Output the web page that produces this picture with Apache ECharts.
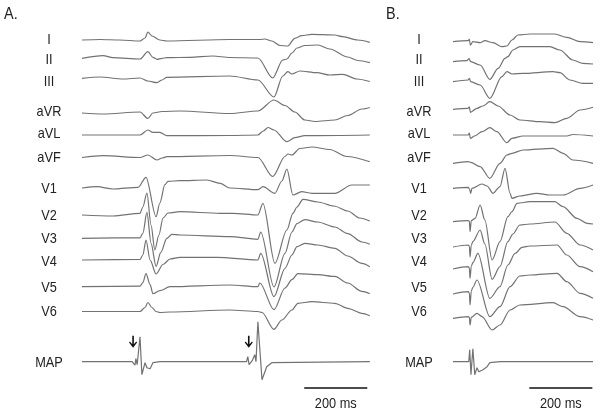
<!DOCTYPE html>
<html>
<head>
<meta charset="utf-8">
<script src="https://cdn.jsdelivr.net/npm/echarts@6/dist/echarts.min.js"></script>
<style>
  html, body { margin: 0; padding: 0; background: #fff; }
  #chart { width: 600px; height: 414px; }
</style>
</head>
<body>
<div id="chart"></div>
<script>
// lead names, top to bottom
var leads = ['I', 'II', 'III', 'aVR', 'aVL', 'aVF', 'V1', 'V2', 'V3', 'V4', 'V5', 'V6', 'MAP'];

// panel A traces: [time ms, amplitude mV]
var aI   = [[0,0],[57,0.05],[120,0],[184,-0.1],[200,0.2],[209,0.8],[222,0.4],[247,0],[269,-0.1],[469,0.05],[565,0.05],[580,0.1],[602,-0.1],[628,-0.55],[653,-0.6],[675,0.17],[697,0.43],[729,0.57],[802,0.5],[827,0.33],[875,0],[913,-0.23]];
var aII  = [[0,-0.03],[67,0.23],[98,0.03],[184,-0.1],[209,0.63],[225,0.07],[238,-0.13],[254,-0.03],[269,0.03],[342,0.07],[415,0.2],[469,0.05],[558,0],[605,-2.0],[637,-0.2],[650,-0.1],[666,0.5],[682,1.0],[707,1.25],[748,1.3],[786,0.9],[843,0.1],[875,-0.25],[913,-0.47]];
var aIII = [[0,0.07],[57,0.2],[130,0],[184,0.1],[209,-0.2],[238,-0.37],[254,-0.1],[269,0.17],[469,0.3],[558,-0.1],[609,-1.8],[637,0.3],[653,0.73],[666,0.5],[691,0.8],[745,0.63],[786,0.4],[827,0.47],[872,0],[913,-0.25]];
var aVR  = [[0,-0.05],[67,-0.15],[184,0.05],[209,-0.6],[225,-0.05],[254,0.1],[311,0.15],[469,-0.1],[558,0.15],[609,1.25],[644,0.7],[675,0.05],[707,-0.75],[739,-0.9],[802,-0.75],[843,-0.3],[888,0.35],[913,0.5]];
var aVL  = [[0,0],[184,0],[209,0.5],[225,0.27],[247,0.27],[269,-0.07],[469,-0.05],[558,0],[575,0.4],[590,0.75],[609,0.5],[650,-0.67],[675,-0.27],[707,-0.07],[913,0]];
var aVF  = [[0,-0.05],[67,0.13],[184,-0.05],[209,0.2],[238,-0.3],[254,-0.1],[269,0.03],[469,0.15],[558,-0.05],[605,-1.95],[644,0.05],[653,0.3],[666,0.2],[691,0.85],[730,1.0],[786,0.75],[840,0.05],[913,-0.47]];
var aV1  = [[0,0],[48,0.13],[98,-0.1],[178,0.07],[203,1.07],[235,-2.87],[247,-1.5],[263,0.33],[273,0.67],[311,0.73],[396,0.8],[438,0.47],[469,0],[558,-0.17],[574,0.13],[612,-0.53],[634,0.7],[650,1.9],[669,-0.7],[697,-0.37],[729,-0.53],[802,-0.53],[856,0.3],[913,0.3]];
var aV2  = [[0,0],[98,-0.1],[184,0.17],[193,0.8],[206,2.2],[219,-1.0],[231,-3.5],[244,-2.0],[257,-0.3],[273,0.2],[311,0.33],[438,0.17],[479,0.17],[558,0],[574,1.17],[612,-4.83],[650,-1.5],[669,0.17],[682,0.8],[701,1.57],[748,1.3],[799,0.9],[843,0.4],[881,-0.3],[913,-0.6]];
var aV3  = [[0,0],[184,0.05],[193,0.5],[206,2.6],[219,-0.5],[235,-2.8],[250,-1.4],[269,0],[285,0.4],[311,0.33],[469,0.17],[558,-0.1],[567,0.63],[609,-4.87],[644,-1.5],[666,0.63],[682,1.47],[707,1.87],[748,1.63],[802,1.13],[843,0.47],[888,-0.37],[913,-0.6]];
var aV4  = [[0,0],[184,0.05],[193,0.5],[203,2.0],[216,0],[235,-1.4],[257,-0.45],[279,0.1],[311,0.27],[428,0.27],[558,0],[567,0.67],[609,-3.67],[644,-0.83],[666,0.5],[682,1.33],[707,1.67],[748,1.5],[802,1.17],[843,0.4],[888,-0.33],[913,-0.67]];
var aV5  = [[0,0],[184,0.05],[193,0.4],[203,1.3],[216,0.2],[225,-0.7],[247,-0.4],[279,0],[469,0.17],[558,0],[564,0.37],[609,-2.3],[644,-0.13],[666,0.7],[685,1.3],[748,1.2],[802,1.03],[843,0.37],[888,-0.47],[913,-0.7]];
var aV6  = [[0,0],[184,0],[200,0.4],[209,0.9],[222,0.4],[235,0],[247,-0.1],[279,-0.05],[469,0.15],[558,0],[571,-0.1],[609,-1.78],[634,-0.85],[666,0.15],[685,0.82],[729,0.98],[802,0.82],[843,0.32],[888,-0.18],[913,-0.42]];
var aMAP = [[0,0],[159,0],[165,-0.2],[168,-0.35],[171,0.3],[175,-0.3],[181,-0.2],[184,2.5],[190,-1.3],[200,-0.1],[206,-0.6],[216,-0.7],[225,-0.1],[247,0],[522,0],[526,0.5],[530,-0.3],[540,0.1],[548,0.7],[552,0],[558,4.0],[571,-1.8],[574,-1.7],[586,-0.5],[602,-0.1],[913,0]];

// panel B traces
var bI   = [[0,0],[48,0.1],[52,0.25],[55,-0.35],[63,0],[86,-0.1],[101,0.1],[127,-0.1],[155,-0.5],[171,-0.43],[187,0.17],[206,0.67],[244,0.77],[323,0.77],[361,0.43],[403,0],[444,-0.1]];
var bII  = [[0,0],[44,0.1],[51,0.3],[56,0],[86,-0.33],[117,-1.76],[143,-0.67],[165,0.33],[174,0.5],[190,1.17],[212,1.5],[307,1.5],[339,1.17],[380,0.17],[412,-0.17],[444,-0.23]];
var bIII = [[0,0],[48,0.17],[52,0.33],[56,0],[86,-0.33],[117,-1.67],[155,0.5],[171,1.0],[187,0.77],[222,0.83],[317,1.0],[339,0.9],[371,0.17],[412,-0.17],[444,-0.17]];
var bVR  = [[0,0],[48,0.1],[52,0.25],[55,-0.3],[76,0.1],[95,0.33],[117,0.76],[143,0.33],[181,-0.57],[212,-1.07],[276,-1.24],[323,-1.34],[361,-0.9],[403,-0.07],[444,0.2]];
var bVL  = [[0,0],[48,0],[52,0.2],[55,-0.35],[68,-0.1],[92,0.33],[117,0.73],[139,0.33],[171,-0.77],[187,-0.33],[222,-0.1],[361,-0.1],[380,0.05],[444,-0.1]];
var bVF  = [[0,0],[48,0.17],[56,0.1],[86,-0.34],[117,-1.5],[149,0],[171,0.83],[187,1.0],[222,1.33],[317,1.5],[349,1.0],[380,0.33],[444,0]];
var bV1  = [[0,0],[48,0.1],[53,-0.1],[56,-0.5],[60,0],[92,0.43],[108,0.23],[127,-0.5],[149,0.17],[165,2.0],[181,-0.5],[187,-1.0],[212,-0.77],[266,-0.5],[307,-0.67],[349,-0.67],[403,0],[444,0.33]];
var bV2  = [[0,0],[48,0.1],[52,0.05],[54,-1.0],[58,0.1],[70,0.34],[86,1.67],[101,0.17],[124,-3.83],[149,-2.0],[174,0.5],[187,1.0],[203,1.84],[244,2.0],[323,2.0],[349,1.5],[393,0.34],[425,-0.16],[444,-0.23]];
var bV3  = [[0,0],[48,0.2],[52,0.1],[54,-1.0],[58,0.2],[63,0.53],[86,1.7],[101,0.3],[124,-3.23],[149,-1.97],[174,0.53],[190,1.3],[212,2.2],[244,2.3],[323,2.5],[361,1.37],[403,0.2],[444,-0.3]];
var bV4  = [[0,0],[48,0.23],[52,0.1],[54,-0.93],[58,0.3],[63,0.63],[79,1.57],[117,-2.93],[149,-1.77],[174,0.4],[197,1.57],[219,2.17],[244,2.3],[330,2.4],[361,1.4],[403,0.23],[444,-0.27]];
var bV5  = [[0,0],[48,0.23],[52,0.1],[54,-1.1],[58,0.3],[63,0.67],[76,1.4],[117,-2.27],[149,-1.27],[181,0.73],[212,1.8],[244,1.9],[330,2.07],[361,1.23],[403,0.07],[444,-0.43]];
var bV6  = [[0,0],[48,0.17],[52,0.1],[54,-0.67],[58,0.1],[76,0.5],[92,0.17],[124,-1.17],[149,-0.67],[181,0.83],[212,1.33],[317,1.56],[349,1.16],[403,0.16],[444,-0.17]];
var bMAP = [[0,0],[50,0],[53,1.2],[57,-1.3],[63,1.3],[69,-1.3],[76,-0.6],[82,-1.0],[95,-0.8],[108,-0.5],[117,-0.1],[150,0],[444,0]];

// stimulus arrows on MAP (A), scale bars (200 ms)
var arrowTimes = [162, 529];
var arrowLevel = 2.0;
var scaleStartA = 705, scaleStartB = 242, scaleLen = 200;

// layout
var baseA  = [40, 58, 79, 112.5, 135, 157, 188, 215, 238.3, 260, 286.7, 311.5, 361.7];
var baseB  = [41.7, 61.7, 81.7, 109.3, 135, 163.3, 188.3, 221.7, 247, 269, 294, 318.3, 361.7];
var labelY = [40, 60, 81.5, 111.5, 134, 157.5, 188.5, 215.5, 239, 262, 287.5, 311.5, 362.5];

var panels = [
  { name: 'A.', left: 82, width: 290, xMax: 920, base: baseA, labelX: 49, titleX: 4,
    traces: [aI, aII, aIII, aVR, aVL, aVF, aV1, aV2, aV3, aV4, aV5, aV6, aMAP], scaleStart: scaleStartA },
  { name: 'B.', left: 453, width: 140, xMax: 444, base: baseB, labelX: 419, titleX: 386,
    traces: [bI, bII, bIII, bVR, bVL, bVF, bV1, bV2, bV3, bV4, bV5, bV6, bMAP], scaleStart: scaleStartB }
];

var PX_PER_MV = 10;
var grid = [], xAxis = [], yAxis = [], series = [], graphic = [];

// one grid per trace, centred on its baseline, kept inside the canvas
function addGrid(p, base) {
  var idx = grid.length;
  var half = Math.min(60, base - 1, 413 - base);
  grid.push({ left: p.left, width: p.width, top: base - half, height: 2 * half,
              outerBoundsMode: 'none', containLabel: false });
  xAxis.push({ type: 'value', gridIndex: idx, min: 0, max: p.xMax, show: false });
  yAxis.push({ type: 'value', gridIndex: idx, min: -half / PX_PER_MV, max: half / PX_PER_MV, show: false });
  return idx;
}

function txt(x, y, s, align, size) {
  return {
    type: 'text', x: x, y: y, scaleX: 0.85, silent: true,
    style: { text: s, fill: '#222', font: (size || 15) + 'px "Liberation Sans", Arial, sans-serif',
             textAlign: align, align: align, textVerticalAlign: 'middle', verticalAlign: 'middle' }
  };
}

panels.forEach(function (p) {
  leads.forEach(function (lead, i) {
    var g = addGrid(p, p.base[i]);
    var s = {
      type: 'line', xAxisIndex: g, yAxisIndex: g, data: p.traces[i],
      symbol: 'none', clip: false, silent: true,
      smooth: lead === 'MAP' ? false : 0.3, smoothMonotone: 'x',
      lineStyle: { color: '#727272', width: 1.2 }
    };
    if (lead === 'MAP' && p.name === 'A.') {
      s.markPoint = {
        symbol: 'path://M3.6,0 H5.4 V8.6 L8.1,5.9 L9,6.9 L4.5,12 L0,6.9 L0.9,5.9 L3.6,8.6 Z',
        symbolSize: [8, 12],
        itemStyle: { color: '#111' },
        label: { show: false },
        data: arrowTimes.map(function (t) { return { coord: [t, arrowLevel] }; })
      };
    }
    series.push(s);
    graphic.push(txt(p.labelX, labelY[i], lead, 'center'));
  });
  // scale bar
  var gs = addGrid(p, 388);
  series.push({
    type: 'line', xAxisIndex: gs, yAxisIndex: gs, symbol: 'none', silent: true, clip: false,
    data: [[p.scaleStart, 0], [p.scaleStart + scaleLen, 0]],
    lineStyle: { color: '#111', width: 1.5 }
  });
  var cx = p.left + (p.scaleStart + scaleLen / 2) / p.xMax * p.width;
  graphic.push(txt(cx, 404, scaleLen + ' ms', 'center'));
  graphic.push(txt(p.titleX, 14, p.name, 'left', 17));
});

var chart = echarts.init(document.getElementById('chart'));
chart.setOption({
  backgroundColor: '#fff',
  animation: false,
  grid: grid,
  xAxis: xAxis,
  yAxis: yAxis,
  series: series,
  graphic: graphic
});
window.onresize = function () { chart.resize(); };
</script>
</body>
</html>
